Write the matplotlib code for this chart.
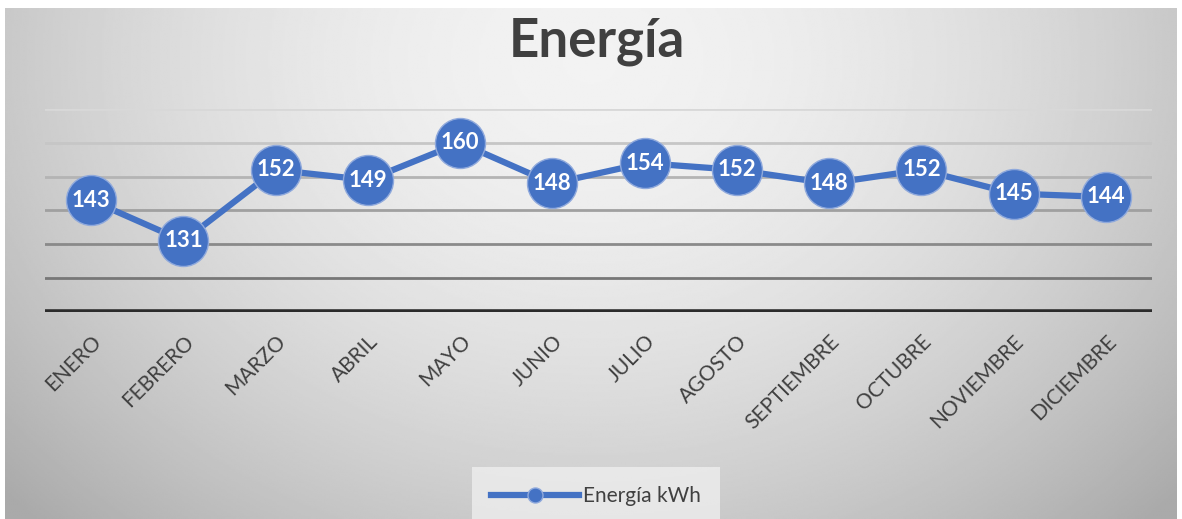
import numpy as np
import matplotlib.pyplot as plt

meses = ['ENERO', 'FEBRERO', 'MARZO', 'ABRIL', 'MAYO', 'JUNIO', 'JULIO',
         'AGOSTO', 'SEPTIEMBRE', 'OCTUBRE', 'NOVIEMBRE', 'DICIEMBRE']
energia = [143, 131, 152, 149, 160, 148, 154, 152, 148, 152, 145, 144]
grid_vals = [120, 130, 140, 150, 160, 170]
grid_cols = ['#777777', '#8a8a8a', '#a0a0a0', '#b4b4b4', '#c6c6c6', '#d8d8d8']

plt.rcParams['font.family'] = ['Lato', 'DejaVu Sans']
azul = '#4472C4'
texto = '#404040'

fig = plt.figure(figsize=(11.82, 5.19), dpi=100)
fig.patch.set_facecolor('white')

# fondo con degradado radial
bg = fig.add_axes([5 / 1182, 0, 1172 / 1182, 511 / 519])
yy, xx = np.mgrid[0:1:300j, 0:1:600j]
d = np.sqrt(((xx - 0.5) / 0.62) ** 2 + ((yy - 0.1) / 1.15) ** 2)
bg.imshow(0.95 - 0.24 * np.clip(d, 0, 1.1) ** 1.8, cmap='gray', vmin=0, vmax=1,
          aspect='auto', extent=[0, 1, 1, 0], interpolation='bilinear')
bg.set_axis_off()

ax = fig.add_axes([45 / 1182, 207 / 519, 1107 / 1182, 203 / 519])
ax.set_facecolor('none')
x = np.arange(len(meses))
for g, c in zip(grid_vals, grid_cols):
    ax.axhline(g, color=c, lw=2, zorder=1)
ax.axhline(110, color='#2b2b2b', lw=4, zorder=1)

ax.plot(x, energia, color=azul, lw=4.5, marker='o', markersize=36,
        markerfacecolor=azul, markeredgecolor='#8fa9dc', markeredgewidth=1,
        zorder=3, label='Energía kWh')
for xi, v in zip(x, energia):
    ax.text(xi, v, str(v), ha='center', va='center', color='white',
            fontsize=16, fontweight='bold', zorder=4)

ax.set_xlim(-0.5, len(meses) - 0.5)
ax.set_ylim(110, 170)
ax.set_yticks([])
ax.set_xticks(x)
ax.set_xticklabels(meses, rotation=45, ha='right', rotation_mode='anchor',
                   color=texto, fontsize=15)
ax.tick_params(axis='x', length=0, pad=14)
for s in ax.spines.values():
    s.set_visible(False)

fig.text(597 / 1182, 1 - 42 / 519, 'Energía', ha='center', va='center',
         fontsize=38, fontweight='bold', color=texto)

leg = ax.legend(loc='center', bbox_to_anchor=(596 / 1182, 1 - 496 / 519),
                bbox_transform=fig.transFigure, frameon=True, fontsize=15,
                markerscale=0.3, handlelength=4.2, handletextpad=0.2,
                borderpad=0.6)
leg.get_frame().set_facecolor('#eeeeee')
leg.get_frame().set_edgecolor('none')
leg.get_frame().set_boxstyle('square')
for t in leg.get_texts():
    t.set_color(texto)

fig.savefig('out.png', dpi=100)
